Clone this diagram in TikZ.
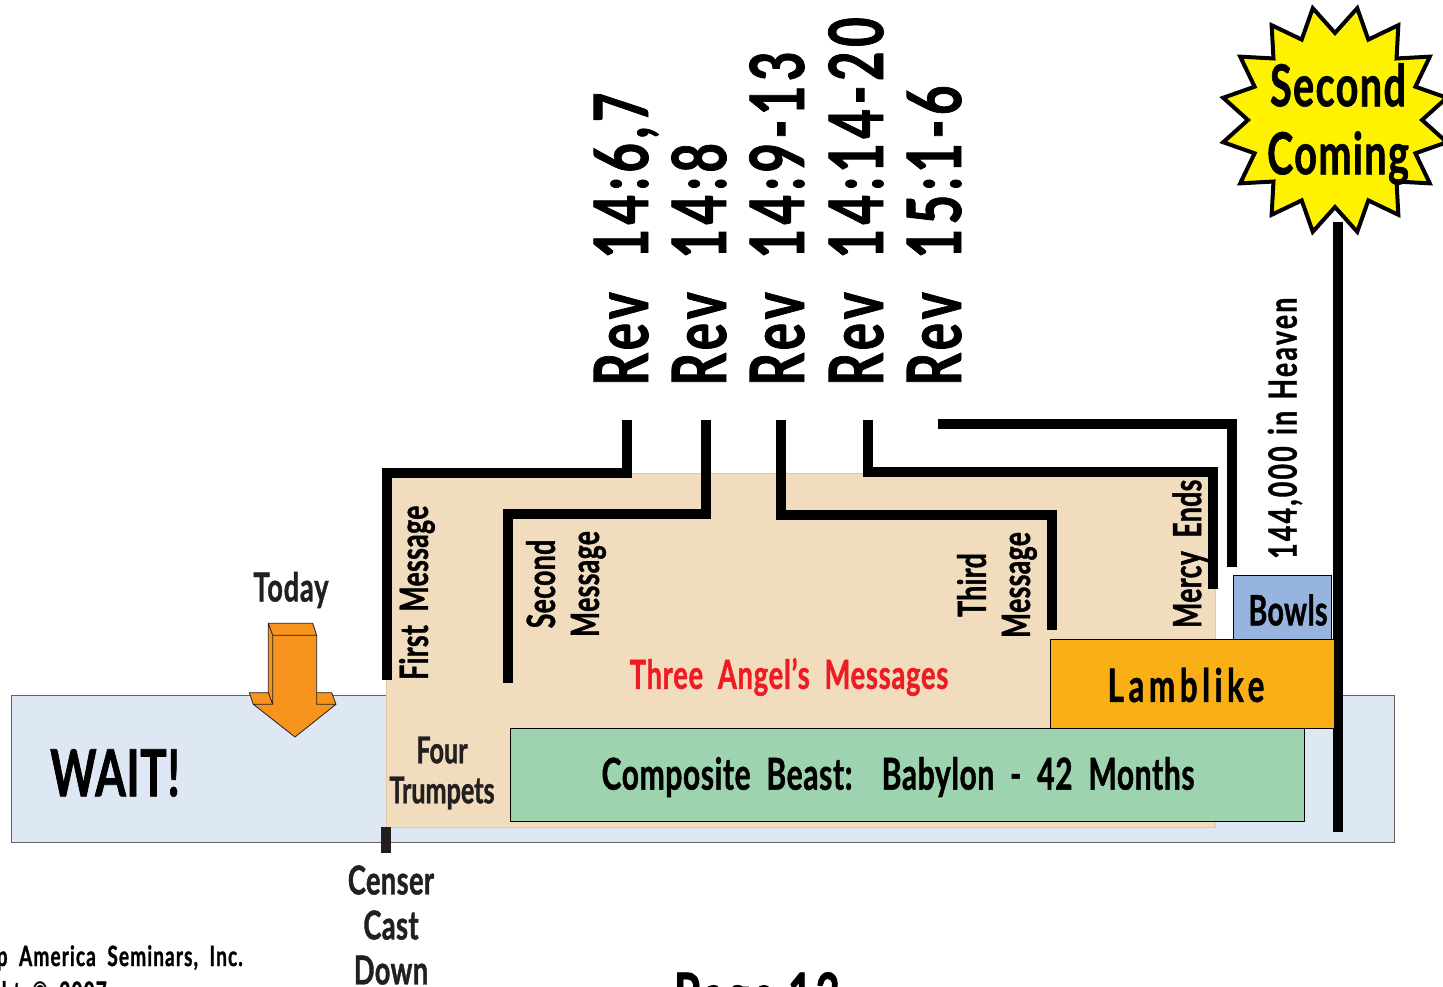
\documentclass[tikz,border=0pt]{standalone}
\usepackage{fontspec}
\setmainfont[FakeStretch=0.68, BoldFeatures={FakeBold=1}]{Lato}
\usetikzlibrary{shapes.geometric, positioning}
\definecolor{waitblue}{RGB}{222,232,245}
\definecolor{peach}{RGB}{241,220,189}
\definecolor{peachedge}{RGB}{226,200,165}
\definecolor{greenbox}{RGB}{158,211,176}
\definecolor{lamborange}{RGB}{251,175,23}
\definecolor{bowlblue}{RGB}{150,180,222}
\definecolor{arroworange}{RGB}{247,148,29}
\definecolor{burst}{RGB}{255,242,0}
\definecolor{inkdark}{RGB}{35,31,32}
\definecolor{msgred}{RGB}{237,28,36}
\newcommand{\spaced}[2]{\addfontfeature{LetterSpace=#1}\spaceskip=#2\fontdimen2\font\relax}

\begin{document}
\begin{tikzpicture}[x=1pt, y=-1pt]
  \tikzstyle{block} = [rectangle, draw, anchor=north west, inner sep=0pt, line width=1pt]
  \tikzstyle{line} = [draw, line width=10pt, black]
  \tikzstyle{rev} = [rotate=90, anchor=base west, inner sep=0pt, font=\fontsize{75}{75}\selectfont\bfseries\spaced{6}{2.0}]
  \tikzstyle{side} = [rotate=90, inner sep=0pt, align=center, font=\fontsize{39}{44}\selectfont\bfseries\spaced{1}{2}]
  \tikzstyle{caption} = [inner sep=0pt, align=center, text=inkdark, font=\fontsize{40}{45}\selectfont\bfseries\spaced{1}{1}]
  \useasboundingbox (0,0) rectangle (1443,987);
  \clip (0,0) rectangle (1443,987);
      % Place boxes
      \node [block, draw=inkdark!70, fill=waitblue, minimum width=1383pt, minimum height=147pt] (wait) at (11,695) {};
      \node [block, draw=peachedge, fill=peach, minimum width=829pt, minimum height=354pt] (peach) at (386,473) {};
      \node [block, fill=greenbox, minimum width=794pt, minimum height=93pt] (beast) at (510,728) {};
      \node [block, fill=bowlblue, minimum width=98pt, minimum height=64pt] (bowls) at (1233,575) {};
      \coordinate (coming foot) at (1338,832);
      \node [star, star points=16, star point ratio=1.31, shape border rotate=11.25, minimum size=228pt, inner sep=0pt, draw, line width=4pt, fill=burst] (coming) at (1335,120) {};
      \path [line] (1338,222) -- (coming foot);
      \node [block, fill=lamborange, minimum width=284pt, minimum height=89pt] (lamblike) at (1050,639) {};

      % Place texts
      \node [rev] (rev a) at (648,386) {Rev 14:6,7};
      \node [rev] (rev b) at (726,386) {Rev 14:8};
      \node [rev] (rev c) at (804,386) {Rev 14:9-13};
      \node [rev] (rev d) at (883,386) {Rev 14:14-20};
      \node [rev] (rev e) at (961,386) {Rev 15:1-6};
      \node [caption, font=\fontsize{58}{68}\selectfont\bfseries\spaced{2.5}{1}, text=black] (second) at (1338,124) {Second\\Coming};
      \node [side, anchor=west] (first msg) at (417,680) {First Message};
      \node [side] (second msg) at (566,584) {Second\\Message};
      \node [side] (third msg) at (997,585) {Third\\Message};
      \node [side, anchor=west] (mercy) at (1190,628) {Mercy Ends};
      \node [side, anchor=west, font=\fontsize{39}{44}\selectfont\bfseries\spaced{6}{1.3}] (heaven) at (1285,559) {144,000 in Heaven};
      \node [caption, text=msgred, font=\fontsize{40}{45}\selectfont\bfseries\spaced{2}{2}] (angels) at (789,677) {Three Angel's Messages};
      \node [caption, font=\fontsize{44}{44}\selectfont\bfseries\spaced{1.5}{2}, text=black] (beast text) at (898,777) {Composite Beast:\enspace\thinspace Babylon - 42 Months};
      \node [caption, font=\fontsize{46}{46}\selectfont\bfseries\spaced{10}{1}, text=black] (lamblike text) at (1186,685) {Lamblike};
      \node [caption, font=\fontsize{42}{42}\selectfont\bfseries\spaced{1}{1}, text=black] (bowls text) at (1288,610) {Bowls};
      \node [caption, font=\fontsize{37}{40}\selectfont\bfseries\spaced{0}{1}] (trumpets) at (442,773) {Four\\Trumpets};
      \node [caption, font=\fontsize{40}{45}\selectfont\bfseries\spaced{2}{1}] (today) at (291,590) {Today};
      \node [caption, font=\fontsize{65}{65}\selectfont\bfseries\spaced{1}{1}, text=black] (waitlabel) at (115,773) {WAIT!};
      \node [caption] (censer) at (391,925) {Censer\\Cast\\Down};
      \node [caption, anchor=east, font=\fontsize{28}{28}\selectfont\bfseries\spaced{4}{2}, text=black] (seminars) at (243,958) {Up America Seminars, Inc.};
      \node [caption, anchor=east, font=\fontsize{28}{28}\selectfont\bfseries\spaced{4}{2}, text=black] (copyright) at (107,994) {Copyright © 2007};
      \node [caption, anchor=north, font=\fontsize{62}{62}\selectfont\bfseries\spaced{5}{1}, text=black] (page) at (757,972) {Page 13};

      % Place arrow
      \draw [fill=arroworange, line width=0.8pt, line join=round, draw=inkdark]
        (268.3,623.3) -- (312.7,623.3) -- (316.7,635.3) -- (272.7,635.3) -- cycle
        (268.3,623.3) -- (272.7,635.3) -- (272.7,704.3) -- (268.3,692.7) -- cycle
        (249.3,692.7) -- (268.3,692.7) -- (272.7,704.3) -- (253.3,704.3) -- cycle
        (316.7,692.7) -- (331.7,692.7) -- (336,704.3) -- (316.7,704.3) -- cycle
        (272.7,635.3) -- (316.7,635.3) -- (316.7,704.3) -- (336,704.3) -- (295,737) -- (253.3,704.3) -- (272.7,704.3) -- cycle;

  %paths
      \coordinate (a top) at (627,420);
      \coordinate (a bend) at (387,473);
      \coordinate (a end) at (387,680);
      \coordinate (b top) at (706,420);
      \coordinate (b bend) at (508,514);
      \coordinate (b end) at (508,683);
      \coordinate (c top) at (781,420);
      \coordinate (c bend) at (1052,515);
      \coordinate (c end) at (1052,630);
      \coordinate (d top) at (868,420);
      \coordinate (d bend) at (1213,472);
      \coordinate (d end) at (1213,589);
      \coordinate (e top) at (938,424);
      \coordinate (e bend) at (1232,424);
      \coordinate (e end) at (1232,567);
      \coordinate (censer top) at (386,827);
      \coordinate (censer foot) at (386,853);
      \path [line] (a top) |- (a bend) -- (a end);
      \path [line] (b top) |- (b bend) -- (b end);
      \path [line] (c top) |- (c bend) -- (c end);
      \path [line] (d top) |- (d bend) -- (d end);
      \path [line] (e top) -- (e bend) -- (e end);
      \path [line, draw=inkdark] (censer top) -- (censer foot);
\end{tikzpicture}
\end{document}
